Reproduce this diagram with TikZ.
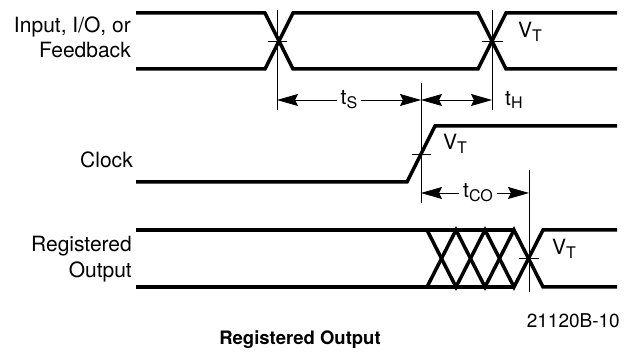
\documentclass[tikz,border=0pt]{standalone}
\usepackage{fontspec}
\setmainfont{TeX Gyre Heros}
\usetikzlibrary{arrows.meta}
\newcommand{\lowidx}[1]{\raisebox{-0.35ex}{\fontsize{16}{18}\selectfont #1}}
\begin{document}
\begin{tikzpicture}[x=1pt,y=1pt]
    \tikzstyle{every node}+=[inner sep=0pt, font=\fontsize{21}{25}\selectfont]
    \tikzstyle{wave}=[black, line width=3.5pt, line join=miter]
    \tikzstyle{guide}=[black, line width=0.8pt]
    \tikzstyle{dim}=[black, line width=0.8pt, {Stealth[length=21pt,width=12pt,inset=3pt]}-{Stealth[length=21pt,width=12pt,inset=3pt]}]
    \useasboundingbox (0,0) rectangle (624,-352);
    % signal names
    \node (inname) [anchor=base east] at (131,-33) {Input, I/O, or};
    \node (fbname) [anchor=base east] at (131,-58) {Feedback};
    \node (clkname) [anchor=base east] at (133,-168) {Clock};
    \node (regname) [anchor=base east] at (132,-252) {Registered};
    \node (outname) [anchor=base east] at (132,-278) {Output};
    % input waveform
    \draw [wave] (136,-13) -- (265,-13) -- (293,-69) -- (478,-69) -- (506,-13) -- (617,-13);
    \draw [wave] (136,-69) -- (265,-69) -- (293,-13) -- (478,-13) -- (506,-69) -- (617,-69);
    % clock waveform
    \draw [wave] (136,-182) -- (407,-182) -- (435,-126) -- (617,-126);
    % registered output waveform
    \draw [wave] (136,-230) -- (514,-230);
    \draw [wave] (136,-287) -- (514,-287);
    \draw [wave] (427,-230) -- (456,-287) -- (485,-230) -- (514,-287) -- (543,-230) -- (617,-230);
    \draw [wave] (427,-287) -- (456,-230) -- (485,-287) -- (514,-230) -- (543,-287) -- (617,-287);
    % reference lines
    \draw [guide] (277,-10) -- (277,-110);
    \draw [guide] (268,-41) -- (287,-41);
    \draw [guide] (492,-10) -- (492,-110);
    \draw [guide] (482,-41) -- (503,-41);
    \draw [guide] (421,-83) -- (421,-203);
    \draw [guide] (412,-154) -- (431,-154);
    \draw [guide] (529,-170) -- (529,-292);
    \draw [guide] (519,-258) -- (539,-258);
    % thresholds
    \node (vtin) [anchor=base west] at (518,-38) {V\lowidx{T}};
    \node (vtclk) [anchor=base west] at (443,-150) {V\lowidx{T}};
    \node (vtout) [anchor=base west] at (552,-255) {V\lowidx{T}};
    % timing
    \coordinate (setupA) at (277,-100);
    \coordinate (setupB) at (421,-100);
    \coordinate (holdB) at (492,-100);
    \coordinate (coA) at (421,-193);
    \coordinate (coB) at (529,-193);
    \draw [dim] (setupA) -- node [fill=white, inner xsep=4pt, inner ysep=2pt] {t\lowidx{S}} (setupB);
    \draw [dim] (setupB) -- (holdB);
    \node (th) [anchor=west] at (505,-100) {t\lowidx{H}};
    \draw [dim] (coA) -- node [fill=white, inner xsep=4pt, inner ysep=2pt, xshift=3pt] {t\lowidx{CO}} (coB);
    % caption
    \node (figid) [anchor=east, font=\fontsize{19}{22}\selectfont] at (620,-321) {21120B-10};
    \node (caption) [font=\bfseries\fontsize{18.5}{22}\selectfont] at (300,-340) {Registered Output};
\end{tikzpicture}
\end{document}
